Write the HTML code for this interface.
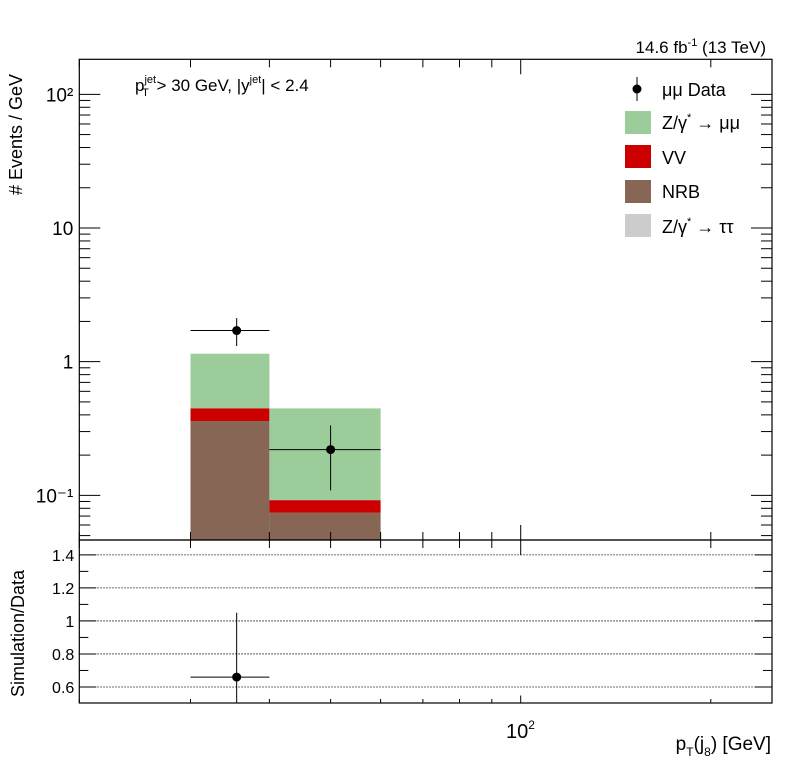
<!DOCTYPE html>
<html><head><meta charset="utf-8"><style>body{margin:0;background:#fff}svg{display:block;font-family:"Liberation Sans",sans-serif}</style></head>
<body>
<svg id="c" width="796" height="772" viewBox="0 0 796 772"></svg>
<script>
const binEdges=[[30,40],[40,60]];
const nrb=[0.36,0.074];
const vv=[0.087,0.018];
const zmm=[0.70,0.355];
const dataX=[35.5,50];
const dataY=[1.71,0.22];
const dataUp=[2.12,0.334];
const dataDn=[1.31,0.109];
const ratioX=[35.5];
const ratioY=[0.66];
const ratioUp=[1.05];
const ratioDn=[0.3];
const yTickLabels=["10\u207B\u00B9","1","10","10\u00B2"];
const rTicks=[0.6,0.8,1.0,1.2,1.4];
const rTickLabels=["0.6","0.8","1","1.2","1.4"];

const L=79.3,R=772,T=59.3,B=540,RT=540,RB=703;
const xmin=Math.log10(20),xmax=Math.log10(250);
const X=v=>L+(Math.log10(v)-xmin)/(xmax-xmin)*(R-L);
const ymin=-1.334,ymax=2.262;
const Y=v=>B-(Math.log10(v)-ymin)/(ymax-ymin)*(B-T);
const rmin=0.503,rmax=1.49;
const RY=v=>RB-(v-rmin)/(rmax-rmin)*(RB-RT);
const s=document.getElementById('c');const NS="http://www.w3.org/2000/svg";
function el(t,a,p){const e=document.createElementNS(NS,t);for(const k in a)e.setAttribute(k,a[k]);(p||s).appendChild(e);return e;}
function clampY(v){return Math.min(B,Math.max(T,Y(v)));}
// stacks
binEdges.forEach((b,i)=>{
  const x0=X(b[0]),x1=X(b[1]);
  const c1=nrb[i],c2=c1+vv[i],c3=c2+zmm[i];
  let r=el('rect',{x:x0,y:clampY(c3),width:x1-x0,height:clampY(c2)-clampY(c3),fill:'#9ccc9a'});
  
  r=el('rect',{x:x0,y:clampY(c2),width:x1-x0,height:clampY(c1)-clampY(c2),fill:'#cc0000'});
  
  r=el('rect',{x:x0,y:clampY(c1),width:x1-x0,height:B-clampY(c1),fill:'#886655'});
  
});
// data points
dataX.forEach((v,i)=>{
  const g=el('g',{});
  el('line',{x1:X(binEdges[i][0]),x2:X(binEdges[i][1]),y1:Y(dataY[i]),y2:Y(dataY[i]),stroke:'#000','stroke-width':1},g);
  el('line',{x1:X(v),x2:X(v),y1:Y(dataUp[i]),y2:Y(dataDn[i]),stroke:'#000','stroke-width':1},g);
  el('circle',{cx:X(v),cy:Y(dataY[i]),r:4.5,fill:'#000'},g);
});
// frames
let f=el('rect',{x:L,y:T,width:R-L,height:B-T,fill:'none',stroke:'#000','stroke-width':1.2});
f=el('rect',{x:L,y:RT,width:R-L,height:RB-RT,fill:'none',stroke:'#000','stroke-width':1.2});
// y ticks main
for(let d=-2;d<=2;d++)for(let m=1;m<10;m++){const v=m*Math.pow(10,d);const y=Y(v);if(y<T||y>B)continue;const len=m==1?21:11;
  el('line',{x1:L,x2:L+len,y1:y,y2:y,stroke:'#000'});el('line',{x1:R,x2:R-len,y1:y,y2:y,stroke:'#000'});}
[0.1,1,10,100].forEach((v,i)=>{const t=el('text',{x:L-6,y:Y(v)+7,'text-anchor':'end','font-size':19});t.textContent=yTickLabels[i];});
// x ticks
[20,30,40,50,60,70,80,90,100,200].forEach(v=>{const x=X(v);const big=v==100?15:8;
  el('line',{x1:x,x2:x,y1:B,y2:B-big,stroke:'#000'});el('line',{x1:x,x2:x,y1:T,y2:T+big,stroke:'#000'});
  el('line',{x1:x,x2:x,y1:RB,y2:RB-big/2,stroke:'#000'});el('line',{x1:x,x2:x,y1:RT,y2:RT+big,stroke:'#000'});});
// ratio
for(let v=0.6;v<1.49;v+=0.1){const y=RY(v);const major=Math.abs((v*10)%2)<0.01||Math.abs((v*10)%2-2)<0.01;const len=major?17:9;
  el('line',{x1:L,x2:L+len,y1:y,y2:y,stroke:'#000'});el('line',{x1:R,x2:R-len,y1:y,y2:y,stroke:'#000'});}
rTicks.forEach((v,i)=>{let g=el('line',{x1:L,x2:R,y1:RY(v),y2:RY(v),stroke:'#000','stroke-dasharray':'1.5,1.5','stroke-width':0.8});
  const t=el('text',{x:L-5,y:RY(v)+6,'text-anchor':'end','font-size':16});t.textContent=rTickLabels[i];});
ratioX.forEach((v,i)=>{const g=el('g',{});
  el('line',{x1:X(binEdges[i][0]),x2:X(binEdges[i][1]),y1:RY(ratioY[i]),y2:RY(ratioY[i]),stroke:'#000'},g);
  el('line',{x1:X(v),x2:X(v),y1:RY(ratioUp[i]),y2:Math.min(RB,RY(ratioDn[i])),stroke:'#000'},g);
  el('circle',{cx:X(v),cy:RY(ratioY[i]),r:4.5,fill:'#000'},g);});
</script>
<svg width="796" height="772" style="position:absolute;left:0;top:0">
<g font-family="Liberation Sans, sans-serif">
<text x="766" y="53" text-anchor="end" font-size="17">14.6 fb<tspan font-size="11" dy="-7">-1</tspan><tspan dy="7"> (13 TeV)</tspan></text>
<text x="135" y="91" font-size="17">p<tspan font-size="11" dy="-8">jet</tspan><tspan font-size="11" dx="-14" dy="13">T</tspan><tspan dy="-5" dx="3"> &gt; 30 GeV,  |y</tspan><tspan font-size="11" dy="-8">jet</tspan><tspan dy="8">| &lt; 2.4</tspan></text>
<text transform="translate(22,195) rotate(-90)" font-size="18"># Events / GeV</text>
<text transform="translate(24,697) rotate(-90)" font-size="18">Simulation/Data</text>
<text x="506" y="738" font-size="20">10<tspan font-size="12" dy="-9">2</tspan></text>
<text x="771" y="750" text-anchor="end" font-size="19">p<tspan font-size="12" dy="6">T</tspan><tspan dy="-6">(j</tspan><tspan font-size="12" dy="6">8</tspan><tspan dy="-6">) [GeV]</tspan></text>
<g font-size="18">
<line x1="637" x2="637" y1="77" y2="101" stroke="#000"/><circle cx="637" cy="89" r="4.5"/>
<text x="662" y="96">μμ Data</text>
<rect x="625" y="111" width="26" height="23" fill="#9ccc9a"/><text x="662" y="129">Z/γ<tspan font-size="11" dy="-8">*</tspan><tspan dy="8"> → μμ</tspan></text>
<rect x="625" y="145" width="26" height="23" fill="#cc0000"/><text x="662" y="164">VV</text>
<rect x="625" y="180" width="26" height="23" fill="#886655"/><text x="662" y="198">NRB</text>
<rect x="625" y="214" width="26" height="23" fill="#cccccc"/><text x="662" y="233">Z/γ<tspan font-size="11" dy="-8">*</tspan><tspan dy="8"> → ττ</tspan></text>
</g>
</g></svg>
</body></html>
